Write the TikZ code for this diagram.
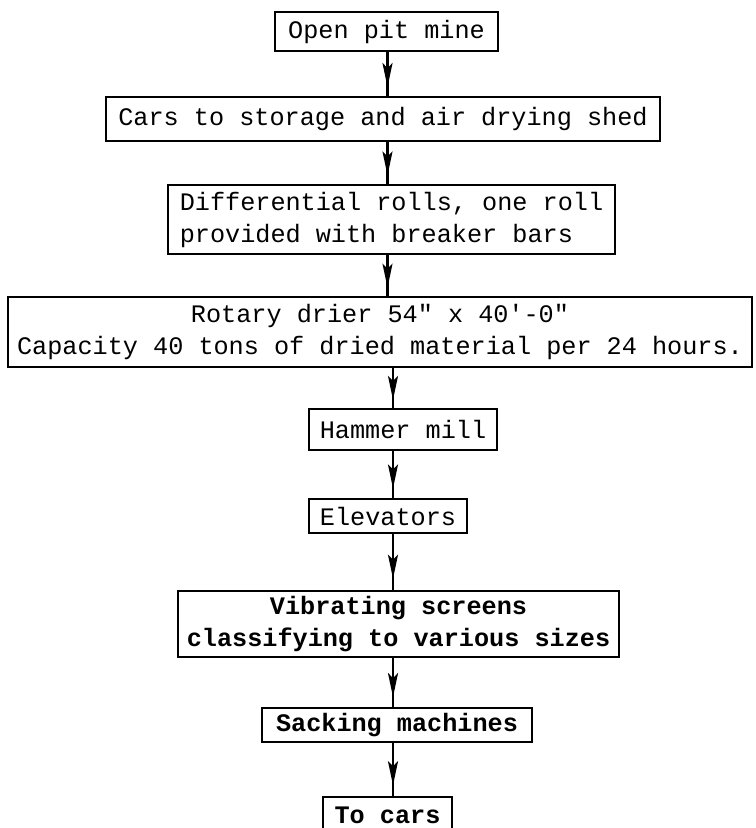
\documentclass[tikz,border=0pt]{standalone}
\usepackage{fontspec}
\newfontfamily\typewr{Liberation Mono}
\usetikzlibrary{arrows.meta}
\usetikzlibrary{decorations.markings}
\tikzset{
  >={Stealth[length=12pt,width=5pt,inset=2.5pt]},
  stagebox/.style={draw=black,line width=1.2pt,rectangle,inner sep=0pt,align=center,
    font=\typewr\fontsize{12.6}{16}\selectfont},
  heavybox/.style={stagebox,font=\typewr\bfseries\fontsize{12.6}{16}\selectfont},
  feed/.style={draw=black,line width=1.1pt,postaction={decorate},
    decoration={markings,mark=at position 0.8 with {\arrow{>}}}}
}

\begin{document}
\begin{tikzpicture}[x=0.5pt,y=-0.5pt]
  \useasboundingbox (0,0) rectangle (755,828);
  \clip (0,0) rectangle (755,828);
  \node (mine)   at (386.5,31.5) [stagebox,minimum width=111.5pt,minimum height=19.5pt] {Open pit mine};
  \node (shed)   at (383,119)    [stagebox,minimum width=277pt,minimum height=22pt] {Cars to storage and air drying shed};
  \node (rolls)  at (391.5,219.5) [stagebox,align=left,minimum width=223.5pt,minimum height=34.5pt]
    {Differential rolls, one roll\\provided with breaker bars};
  \node (drier)  at (380,332)    [stagebox,minimum width=372pt,minimum height=35pt]
    {Rotary drier 54" x 40'-0"\\Capacity 40 tons of dried material per 24 hours.};
  \node (hammer) at (403,429.5)  [stagebox,minimum width=94pt,minimum height=20.5pt] {Hammer mill};
  \node (elev)   at (388,516)    [stagebox,minimum width=79pt,minimum height=17pt] {Elevators};
  \node (screen) at (398.5,624)  [heavybox,minimum width=220.5pt,minimum height=33pt]
    {Vibrating screens\\classifying to various sizes};
  \node (sack)   at (397,725)    [heavybox,minimum width=135pt,minimum height=17pt] {Sacking machines};
  \node (cars)   at (387.5,815)  [heavybox,minimum width=64.5pt,minimum height=18pt] {To cars};
  % line the arrows run along
  \coordinate (upline) at (387.5,0);
  \coordinate (lowline) at (393,0);
  \draw[feed] (mine.south -| upline) -- (shed.north -| upline);
  \draw[feed] (shed.south -| upline) -- (rolls.north -| upline);
  \draw[feed] (rolls.south -| upline) -- (drier.north -| upline);
  \draw[feed] (drier.south -| lowline) -- (hammer.north -| lowline);
  \draw[feed] (hammer.south -| lowline) -- (elev.north -| lowline);
  \draw[feed] (elev.south -| lowline) -- (screen.north -| lowline);
  \draw[feed] (screen.south -| lowline) -- (sack.north -| lowline);
  \draw[feed] (sack.south -| lowline) -- (cars.north -| lowline);
\end{tikzpicture}
\end{document}
